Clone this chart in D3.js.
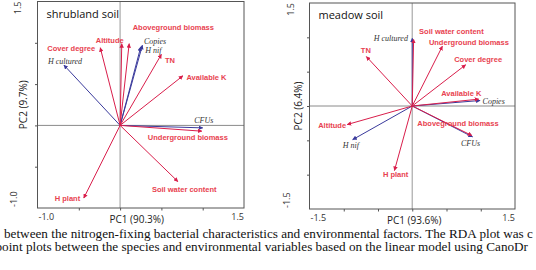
<!DOCTYPE html>
<html lang="en">
<head>
<meta charset="UTF-8">
<title>RDA biplots</title>
<script src="https://cdn.jsdelivr.net/npm/d3@7"></script>
<style>
  body { margin: 0; background: #fff; }
  svg { display: block; }
</style>
</head>
<body>
<script>
// environmental factors (red arrows) and bacterial characteristics (blue arrows)
var envNames = ["Altitude", "Cover degree", "Aboveground biomass", "Underground biomass",
                "TN", "Available K", "Soil water content", "H plant"];
var spNames = ["Copies", "H nif", "H cultured", "CFUs"];

// shrubland soil scores
var shrubEnvX = [0.02, -0.24, 0.11, 0.99, 0.50, 0.76, 0.70, -0.44];
var shrubEnvY = [0.99, 0.94, 0.99, -0.07, 0.86, 0.60, -0.68, -0.88];
var shrubSpX = [0.27, 0.25, -0.68, 1.00];
var shrubSpY = [0.97, 0.95, 0.73, -0.03];

// meadow soil scores
var meadowEnvX = [-0.95, 0.78, 0.87, 0.44, -0.67, 0.97, 0.02, -0.26];
var meadowEnvY = [-0.27, 0.60, -0.43, 0.87, 0.72, 0.10, 0.97, -0.94];
var meadowSpX = [0.99, -0.87, 0.00, 0.88];
var meadowSpY = [0.08, -0.49, 0.985, -0.45];

var width = 536, height = 270;
var red = '#d91e4b', redText = '#e8424f', blue = '#3a3a9c';

var svg = d3.select('body').append('svg')
    .attr('width', width)
    .attr('height', height);

var defs = svg.append('defs');
[['arrRed', red], ['arrBlue', blue]].forEach(function(m) {
    defs.append('marker')
        .attr('id', m[0])
        .attr('viewBox', '0 0 10 10')
        .attr('refX', 9).attr('refY', 5)
        .attr('markerWidth', 4.5).attr('markerHeight', 4.5)
        .attr('markerUnits', 'userSpaceOnUse')
        .attr('orient', 'auto')
        .append('path')
        .attr('d', 'M0,0L10,5L0,10z')
        .attr('fill', m[1]);
});

// label offsets (px) from the arrow tip to the label's left-middle point
var shrubEnvOff = [[-26, -3.5], [-53, 0.5], [3.5, -16], [-54, 6.5], [3.5, 6.5], [3.5, 1.5], [-26, 7.5], [-29, 0]];
var shrubSpOff = [[1.5, -4.5], [4.5, 3], [-16, -3.5], [-8.5, -7.5]];
var meadowEnvOff = [[-29, 0.5], [-11.5, -5.7], [-54.5, -12], [-13.5, -4], [-5.5, -5.7], [-37.5, -6], [5.5, -7.6], [-11.5, 3.5]];
var meadowSpOff = [[2.5, 0.3], [-10, 5.7], [-38.5, 0], [-11.5, 6.6]];

function drawPanel(cfg) {
    var x = d3.scaleLinear().domain(cfg.xDom).range([cfg.left, cfg.right]);
    var y = d3.scaleLinear().domain(cfg.yDom).range([cfg.bottom, cfg.top]);
    var g = svg.append('g');

    // zero lines
    g.append('line')
        .attr('x1', x(0)).attr('x2', x(0))
        .attr('y1', cfg.top).attr('y2', cfg.bottom)
        .attr('stroke', '#b0b0b0').attr('stroke-width', 1.3);
    g.append('line')
        .attr('x1', cfg.left).attr('x2', cfg.right)
        .attr('y1', y(0)).attr('y2', y(0))
        .attr('stroke', '#8a8a8a').attr('stroke-width', 1);

    // axes with outward ticks, no labels (labels drawn separately)
    var xAxis = d3.axisBottom(x).tickValues(cfg.xTicks).tickSize(2.5).tickFormat('');
    var yAxis = d3.axisLeft(y).tickValues(cfg.yTicks).tickSize(2.5).tickFormat('');
    g.append('g').attr('transform', 'translate(0,' + cfg.bottom + ')').call(xAxis)
        .call(function(s) { s.select('.domain').remove(); })
        .selectAll('line').attr('stroke', '#555');
    g.append('g').attr('transform', 'translate(' + cfg.left + ',0)').call(yAxis)
        .call(function(s) { s.select('.domain').remove(); })
        .selectAll('line').attr('stroke', '#555');

    // frame
    g.append('rect')
        .attr('x', cfg.left).attr('y', cfg.top)
        .attr('width', cfg.right - cfg.left).attr('height', cfg.bottom - cfg.top)
        .attr('fill', 'none').attr('stroke', '#555').attr('stroke-width', 1);

    // tick labels at the ends only
    var tickFont = { 'font-family': 'Open Sans, sans-serif', 'font-size': '9px', 'fill': '#333' };
    function styleIt(sel, st) { for (var k in st) sel.attr(k, st[k]); return sel; }
    styleIt(g.append('text'), tickFont).attr('x', cfg.left + 1).attr('y', cfg.bottom + 12)
        .attr('text-anchor', 'start').text(cfg.xLabels[0]);
    styleIt(g.append('text'), tickFont).attr('x', cfg.right).attr('y', cfg.bottom + 12)
        .attr('text-anchor', 'end').text(cfg.xLabels[1]);
    styleIt(g.append('text'), tickFont)
        .attr('transform', 'translate(' + cfg.yTickX + ',' + (cfg.bottom - 1) + ') rotate(-90)')
        .attr('text-anchor', 'start').text(cfg.yLabels[0]);
    styleIt(g.append('text'), tickFont)
        .attr('transform', 'translate(' + (cfg.yTickX + 4) + ',' + cfg.top + ') rotate(-90)')
        .attr('text-anchor', 'end').text(cfg.yLabels[1]);

    // axis titles
    g.append('text')
        .attr('x', (cfg.left + cfg.right) / 2 + cfg.xTitleShift).attr('y', cfg.bottom + 15)
        .attr('text-anchor', 'middle')
        .attr('font-family', 'Open Sans, sans-serif').attr('font-size', '10px').attr('fill', '#222')
        .text(cfg.xTitle);
    g.append('text')
        .attr('transform', 'translate(' + cfg.yTitleX + ',' + ((cfg.top + cfg.bottom) / 2) + ') rotate(-90)')
        .attr('text-anchor', 'middle')
        .attr('font-family', 'Open Sans, sans-serif').attr('font-size', '10px').attr('fill', '#222')
        .text(cfg.yTitle);

    // panel title
    g.append('text')
        .attr('x', cfg.left + 9).attr('y', cfg.top + 16)
        .attr('font-family', 'Open Sans, sans-serif').attr('font-size', '11px').attr('fill', '#111')
        .text(cfg.title);

    // arrows
    var env = cfg.envX.map(function(v, i) {
        return { name: envNames[i], x: v, y: cfg.envY[i], off: cfg.envOff[i] };
    });
    var sp = cfg.spX.map(function(v, i) {
        return { name: spNames[i], x: v, y: cfg.spY[i], off: cfg.spOff[i] };
    });

    g.selectAll('line.sp').data(sp).enter().append('line')
        .attr('class', 'sp')
        .attr('x1', x(0)).attr('y1', y(0))
        .attr('x2', function(d) { return x(d.x); })
        .attr('y2', function(d) { return y(d.y); })
        .attr('stroke', blue).attr('stroke-width', 1)
        .attr('marker-end', 'url(#arrBlue)');
    g.selectAll('line.env').data(env).enter().append('line')
        .attr('class', 'env')
        .attr('x1', x(0)).attr('y1', y(0))
        .attr('x2', function(d) { return x(d.x); })
        .attr('y2', function(d) { return y(d.y); })
        .attr('stroke', red).attr('stroke-width', 1)
        .attr('marker-end', 'url(#arrRed)');

    g.selectAll('text.env').data(env).enter().append('text')
        .attr('class', 'env')
        .attr('x', function(d) { return x(d.x) + d.off[0]; })
        .attr('y', function(d) { return y(d.y) + d.off[1]; })
        .attr('dy', '0.35em')
        .attr('font-family', 'Liberation Sans, Arial, sans-serif')
        .attr('font-weight', 'bold').attr('font-size', '7.5px')
        .attr('fill', redText)
        .text(function(d) { return d.name; });
    g.selectAll('text.sp').data(sp).enter().append('text')
        .attr('class', 'sp')
        .attr('x', function(d) { return x(d.x) + d.off[0]; })
        .attr('y', function(d) { return y(d.y) + d.off[1]; })
        .attr('dy', '0.35em')
        .attr('font-family', 'Liberation Serif, Times New Roman, serif')
        .attr('font-style', 'italic').attr('font-size', '8px')
        .attr('fill', '#333')
        .text(function(d) { return d.name; });
}

drawPanel({
    left: 37.5, right: 244, top: 1.5, bottom: 208,
    xDom: [-1.0, 1.5], yDom: [-1.0, 1.5],
    xTicks: [-0.5, 0, 0.5, 1.0], yTicks: [-0.5, 0, 0.5, 1.0],
    xLabels: ['-1.0', '1.5'], yLabels: ['-1.0', '1.5'],
    yTickX: 17, yTitleX: 27, xTitleShift: -4,
    xTitle: 'PC1 (90.3%)', yTitle: 'PC2 (9.7%)',
    title: 'shrubland soil',
    envX: shrubEnvX, envY: shrubEnvY, spX: shrubSpX, spY: shrubSpY,
    envOff: shrubEnvOff, spOff: shrubSpOff
});

drawPanel({
    left: 309.5, right: 515, top: 3, bottom: 209,
    xDom: [-1.5, 1.5], yDom: [-1.5, 1.5],
    xTicks: [-1.0, -0.5, 0, 0.5, 1.0], yTicks: [-1.0, -0.5, 0, 0.5, 1.0],
    xLabels: ['-1.5', '1.5'], yLabels: ['-1.5', '1.5'],
    yTickX: 290, yTitleX: 302, xTitleShift: 2,
    xTitle: 'PC1 (93.6%)', yTitle: 'PC2 (6.4%)',
    title: 'meadow soil',
    envX: meadowEnvX, envY: meadowEnvY, spX: meadowSpX, spY: meadowSpY,
    envOff: meadowEnvOff, spOff: meadowSpOff
});

// cropped figure caption under the panels
var caption = [
    'between the nitrogen-fixing bacterial characteristics and environmental factors. The RDA plot was c',
    'point plots between the species and environmental variables based on the linear model using CanoDr'
];
svg.selectAll('text.cap').data(caption).enter().append('text')
    .attr('class', 'cap')
    .attr('x', function(d, i) { return i === 0 ? 4 : -4.5; })
    .attr('y', function(d, i) { return 237.5 + i * 13; })
    .attr('font-family', 'Liberation Serif, Times New Roman, serif')
    .attr('font-size', '13.2px')
    .attr('fill', '#111')
    .text(function(d) { return d; });
</script>
</body>
</html>
